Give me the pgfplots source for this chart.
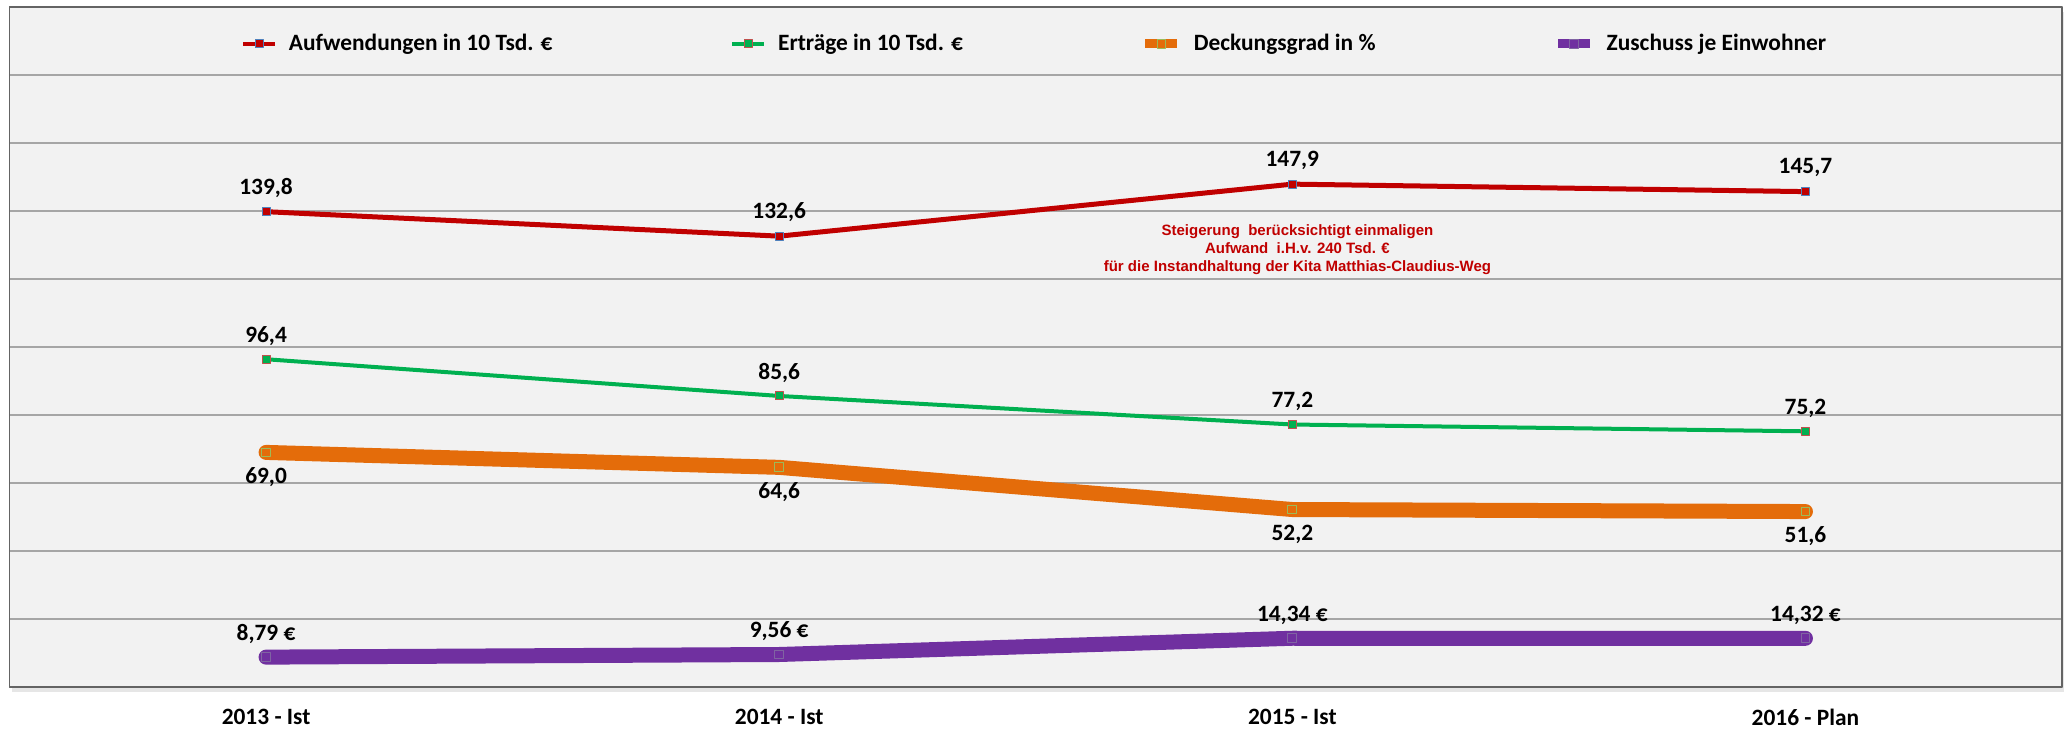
\documentclass[border=0pt]{standalone}
\usepackage{fontspec}
\setmainfont{Carlito}
\newfontfamily\notefont{Liberation Sans}
\usepackage{pgfplots}
\pgfplotsset{compat=1.18}
\usetikzlibrary{calc,shadows}
\definecolor{aufw}{RGB}{192,0,0}
\definecolor{ertr}{RGB}{0,176,80}
\definecolor{deck}{RGB}{228,108,10}
\definecolor{zusch}{RGB}{112,48,160}
\definecolor{plotbg}{RGB}{242,242,242}
\definecolor{gridc}{RGB}{166,166,166}
\definecolor{framec}{RGB}{100,100,100}
\definecolor{mkblue}{RGB}{79,129,189}
\definecolor{mkred}{RGB}{192,80,77}
\definecolor{mkolive}{RGB}{155,187,89}
\definecolor{mkpurp}{RGB}{128,100,162}

\begin{document}
\begin{tikzpicture}[font=\fontsize{11.7bp}{14bp}\selectfont\bfseries]
\begin{axis}[
    scale only axis,
    width=1026.25bp, height=340bp,
    xmin=-0.5, xmax=3.5, ymin=0, ymax=200,
    xtick={0,1,2,3},
    xticklabels={2013 - Ist, 2014 - Ist, 2015 - Ist, 2016 - Plan},
    xticklabel style={anchor=center, yshift=-15bp},
    ytick={0,20,...,200}, yticklabels={},
    ymajorgrids, grid style={gridc, line width=0.6bp},
    major tick length=0pt,
    axis line style={framec, line width=0.8bp},
    axis background/.style={fill=plotbg,
        drop shadow={shadow xshift=1bp, shadow yshift=-2.5bp, opacity=0.2}},
    clip=false,
    point meta=explicit symbolic,
    nodes near coords,
    every node near coord/.append style={anchor=center, text=black},
    line join=round, line cap=round,
    legend columns=4,
    legend style={at={(0.5,0.946)}, anchor=center, draw=none, fill=none,
        /tikz/every odd column/.append style={column sep=4bp},
        /tikz/every even column/.append style={column sep=87bp}},
    legend image code/.code={\draw[mark repeat=2, mark phase=2, #1]
        plot coordinates {(0bp,0bp) (8bp,0bp) (16bp,0bp)};},
]
% Aufwendungen
\addplot[aufw, line width=2.5bp, mark=square*, mark size=2bp,
    mark options={fill=aufw, draw=mkblue, line width=0.5bp},
    legend image post style={line width=1.8bp},
    every node near coord/.append style={yshift=12bp}]
    coordinates {(0,139.8)[139,8] (1,132.6)[132,6] (2,147.9)[147,9] (3,145.7)[145,7]};
\addlegendentry{Aufwendungen in 10 Tsd. €}
% Ertraege
\addplot[ertr, line width=2bp, mark=square*, mark size=2bp,
    mark options={fill=ertr, draw=mkred, line width=0.5bp},
    legend image post style={line width=1.8bp},
    every node near coord/.append style={yshift=11.5bp}]
    coordinates {(0,96.4)[96,4] (1,85.6)[85,6] (2,77.2)[77,2] (3,75.2)[75,2]};
\addlegendentry{Erträge in 10 Tsd. €}
% Deckungsgrad
\addplot[deck, line width=7.5bp, mark=square, mark size=2.2bp,
    mark options={draw=mkolive, line width=0.5bp},
    legend image post style={line width=4.5bp},
    every node near coord/.append style={yshift=-12.5bp}]
    coordinates {(0,69.0)[69,0] (1,64.6)[64,6] (2,52.2)[52,2] (3,51.6)[51,6]};
\addlegendentry{Deckungsgrad in \%}
% Zuschuss je Einwohner
\addplot[zusch, line width=7.5bp, mark=square, mark size=2.2bp,
    mark options={draw=mkpurp, line width=0.5bp},
    legend image post style={line width=4.5bp},
    every node near coord/.append style={yshift=11.5bp}]
    coordinates {(0,8.79)[8,79 €] (1,9.56)[9,56 €] (2,14.34)[14,34 €] (3,14.32)[14,32 €]};
\addlegendentry{Zuschuss je Einwohner}

\node[text=aufw, align=center,
    font=\notefont\fontsize{7.5bp}{9bp}\selectfont\bfseries]
    at (axis cs:2.01,128.5)
    {Steigerung\ \ berücksichtigt einmaligen\\Aufwand\ \ i.H.v. 240 Tsd. €\\für die Instandhaltung der Kita Matthias-Claudius-Weg};

\coordinate (bl) at (rel axis cs:0,0);
\coordinate (tr) at (rel axis cs:1,1);
\end{axis}
\pgfresetboundingbox
\path ($(bl)+(-4.75bp,-21.5bp)$) rectangle ($(tr)+(3.5bp,3.5bp)$);
\end{tikzpicture}
\end{document}
